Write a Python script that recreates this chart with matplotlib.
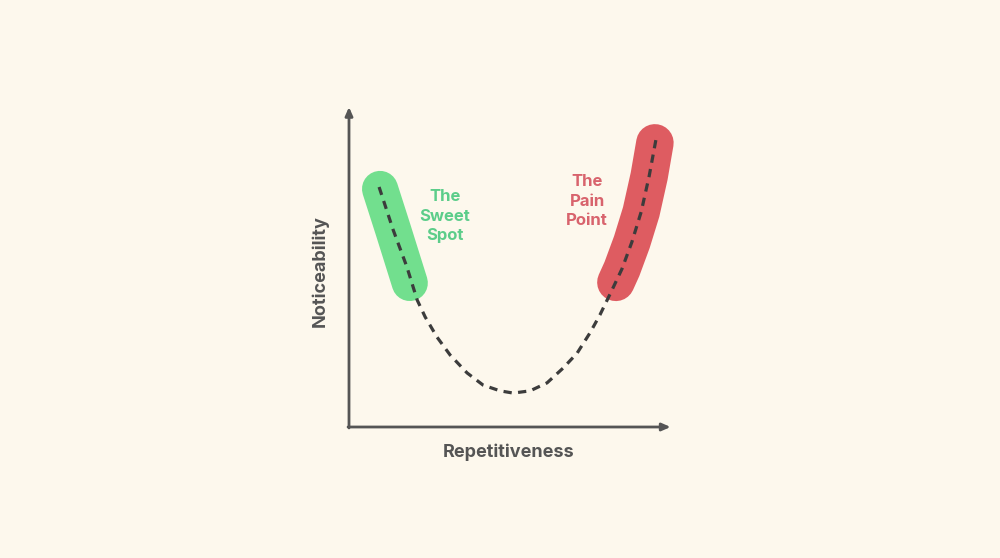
import matplotlib.pyplot as plt

# Кривая "заметность от повторяемости"
curve_x = [0.94, 1.38, 1.81, 2.13, 2.38, 2.75, 3.16, 3.69, 4.19, 4.72, 5.13,
           5.66, 6.19, 6.69, 7.13, 7.53, 7.84, 8.19, 8.53, 8.84, 9.13, 9.38, 9.59]
curve_y = [7.50, 6.16, 5.00, 3.97, 3.44, 2.81, 2.25, 1.69, 1.31, 1.13, 1.06,
           1.13, 1.38, 1.84, 2.31, 2.94, 3.50, 4.22, 4.94, 5.78, 6.72, 7.84, 8.97]

# Подсвеченные участки
sweet_x = [0.97, 1.38, 1.90]
sweet_y = [7.44, 6.16, 4.50]
pain_x = [8.34, 8.53, 8.84, 9.13, 9.38, 9.56]
pain_y = [4.52, 4.94, 5.78, 6.72, 7.84, 8.88]

sweet_label = 'The\nSweet\nSpot'
pain_label = 'The\nPain\nPoint'
x_label = 'Repetitiveness'
y_label = 'Noticeability'

bg = '#fdf8ed'
axis_color = '#555555'
green = '#72df8e'
green_text = '#5ccd8a'
red = '#de5c61'
red_text = '#d8636d'

plt.rcParams['font.family'] = ['Inter', 'DejaVu Sans']

fig = plt.figure(figsize=(10, 5.58), dpi=100)
fig.patch.set_facecolor(bg)
ax = fig.add_axes([0, 0, 1, 1])
ax.set_facecolor(bg)
ax.set_xlim(-349 / 32, (1000 - 349) / 32)
ax.set_ylim(-(558 - 427) / 32, 427 / 32)
ax.axis('off')

# Оси со стрелками
arrow = dict(arrowstyle='-|>,head_length=0.5,head_width=0.22', color=axis_color,
             lw=2, shrinkA=0, shrinkB=0)
ax.annotate('', xy=(0, 10.0), xytext=(0, -0.03), arrowprops=arrow)
ax.annotate('', xy=(10.05, 0), xytext=(-0.03, 0), arrowprops=arrow)

# Подсветка
ax.plot(sweet_x, sweet_y, color=green, lw=26, solid_capstyle='round',
        solid_joinstyle='round', zorder=2)
ax.plot(pain_x, pain_y, color=red, lw=27, solid_capstyle='round',
        solid_joinstyle='round', zorder=2)

# Пунктирная кривая
ax.plot(curve_x, curve_y, color='#3c3c3c', lw=2.3, linestyle=(0, (2.6, 2.0)),
        solid_joinstyle='round', zorder=3)

# Подписи
ax.text(3.00, 6.59, sweet_label, color=green_text, fontsize=12, fontweight='bold',
        ha='center', va='center', linespacing=1.38)
ax.text(7.44, 7.06, pain_label, color=red_text, fontsize=12, fontweight='bold',
        ha='center', va='center', linespacing=1.38)
ax.text(5.0, -0.80, x_label, color=axis_color, fontsize=13, fontweight='bold',
        ha='center', va='center')
ax.text(-0.91, 4.88, y_label, color=axis_color, fontsize=13, fontweight='bold',
        ha='center', va='center', rotation=90)

plt.savefig('out.png', dpi=100, facecolor=bg)
